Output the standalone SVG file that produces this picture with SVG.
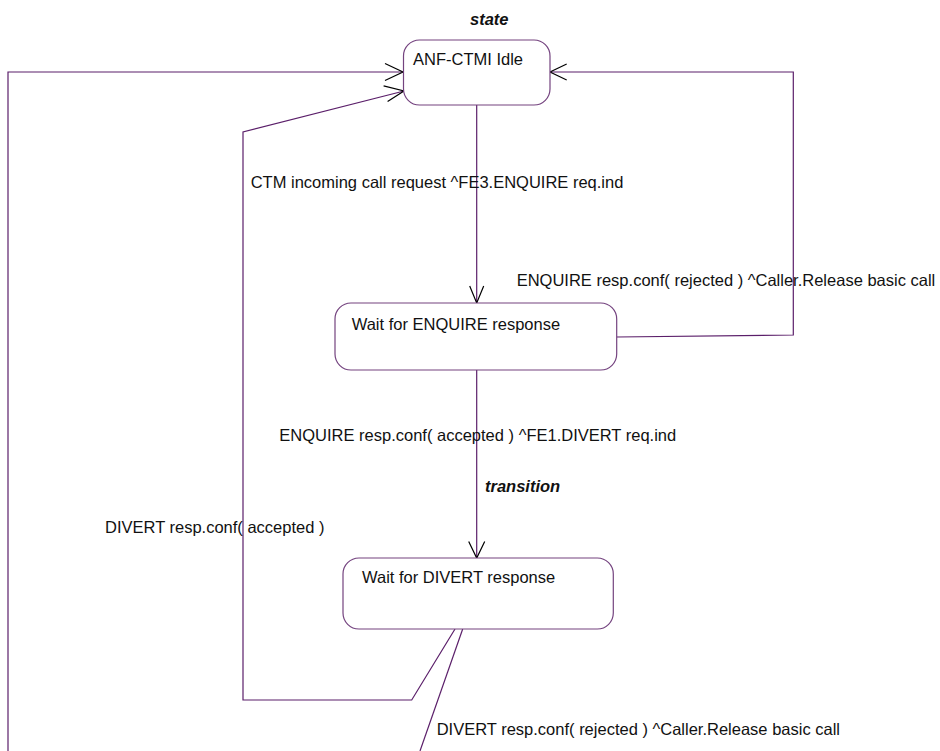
<svg xmlns="http://www.w3.org/2000/svg" width="940" height="751" viewBox="0 0 940 751">
  <style>
    .state { fill: #ffffff; stroke: #74437f; stroke-width: 1.2; }
    .link { fill: none; stroke: #5b1f6a; stroke-width: 1.2; }
    .head { fill: none; stroke: #000000; stroke-width: 1.2; }
    text { font-family: "Liberation Sans", Arial, sans-serif; font-size: 16.5px; fill: #111111; }
    .note { font-weight: bold; font-style: italic; }
  </style>

  <!-- stereotype captions -->
  <text class="note" x="470" y="25">state</text>

  <!-- transitions -->
  <g id="connectors">
    <!-- outer return path into Idle -->
    <polyline class="link" points="8,751 8,72 403,72"/>
    <polyline class="head" points="385,63.5 403,72 385,80.5"/>

    <!-- DIVERT accepted back to Idle -->
    <polyline class="link" points="455,629 411.7,700 243,700 243,132 404,91"/>
    <polyline class="head" points="383.6,85.9 404,91 387.6,101.5"/>

    <!-- ENQUIRE rejected back to Idle -->
    <polyline class="link" points="616.7,337 793.3,335 793.3,72 550,72"/>
    <polyline class="head" points="566.7,64 550,72 566.7,80"/>

    <!-- Idle to Wait for ENQUIRE -->
    <line class="link" x1="476.7" y1="105" x2="476.7" y2="303"/>
    <polyline class="head" points="469.7,286 476.7,303 483.7,286"/>

    <!-- Wait for ENQUIRE to Wait for DIVERT -->
    <line class="link" x1="476.7" y1="370" x2="476.7" y2="558"/>
    <polyline class="head" points="468.7,541.5 476.7,558 484.7,541.5"/>

    <!-- DIVERT rejected -->
    <line class="link" x1="462.7" y1="629" x2="420" y2="751"/>

    <!-- transition labels -->
    <text x="250.7" y="188">CTM incoming call request ^FE3.ENQUIRE req.ind</text>
    <text x="516.7" y="286">ENQUIRE resp.conf( rejected ) ^Caller.Release basic call</text>
    <text x="279.3" y="440.5">ENQUIRE resp.conf( accepted ) ^FE1.DIVERT req.ind</text>
    <text class="note" x="485" y="492">transition</text>
    <text x="105" y="533">DIVERT resp.conf( accepted )</text>
    <text x="436.7" y="735">DIVERT resp.conf( rejected ) ^Caller.Release basic call</text>
  </g>

  <g id="idle">
    <rect class="state" x="403.5" y="40" width="146.5" height="65" rx="16" ry="16"/>
    <text x="413" y="65">ANF-CTMI Idle</text>
  </g>

  <g id="wait-enquire">
    <rect class="state" x="335" y="303" width="281.7" height="67" rx="16" ry="16"/>
    <text x="351.7" y="330">Wait for ENQUIRE response</text>
  </g>

  <g id="wait-divert">
    <rect class="state" x="343" y="558" width="270.3" height="71" rx="16" ry="16"/>
    <text x="362" y="583">Wait for DIVERT response</text>
  </g>
</svg>
